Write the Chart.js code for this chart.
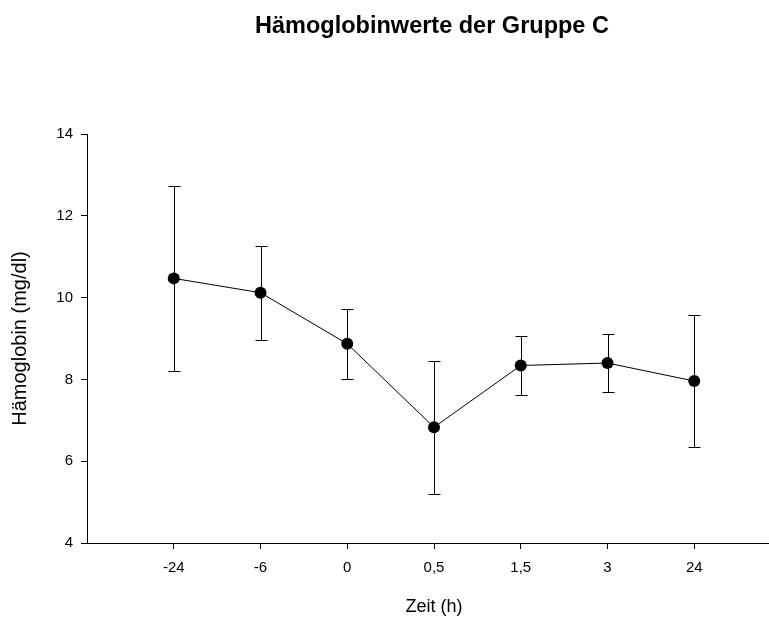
<!DOCTYPE html>
<html>
<head>
<meta charset="utf-8">
<script src="https://cdn.jsdelivr.net/npm/chart.js@4.4.1/dist/chart.umd.min.js"></script>
<style>
  html, body { margin: 0; padding: 0; background: #fff; overflow: hidden; width: 769px; height: 621px; }
  #wrap { position: relative; width: 864px; height: 621px; }
</style>
</head>
<body>
<div id="wrap"><canvas id="c" width="864" height="621"></canvas></div>
<script>
const categories = ['-24', '-6', '0', '0,5', '1,5', '3', '24'];
const meanValues = [10.47, 10.12, 8.87, 6.83, 8.34, 8.40, 7.96];
const upperValues = [12.72, 11.27, 9.71, 8.44, 9.07, 9.10, 9.57];
const lowerValues = [8.21, 8.96, 8.00, 5.21, 7.63, 7.70, 6.34];
const yTickValues = [4, 6, 8, 10, 12, 14];
const chartTitle = 'Hämoglobinwerte der Gruppe C';

const FONT = "'Liberation Sans', Arial, sans-serif";

const errorBarPlugin = {
  id: 'errorBars',
  beforeDatasetsDraw(chart) {
    const ctx = chart.ctx;
    const xs = chart.scales.x, ys = chart.scales.y;
    ctx.save();
    ctx.strokeStyle = '#000';
    ctx.lineWidth = 1;
    const cap = 6;
    categories.forEach((c, i) => {
      const x = Math.round(xs.getPixelForValue(i)) + 0.5;
      const yt = Math.round(ys.getPixelForValue(upperValues[i])) + 0.5;
      const yb = Math.round(ys.getPixelForValue(lowerValues[i])) + 0.5;
      ctx.beginPath();
      ctx.moveTo(x, yt); ctx.lineTo(x, yb);
      ctx.moveTo(x - cap, yt); ctx.lineTo(x + cap, yt);
      ctx.moveTo(x - cap, yb); ctx.lineTo(x + cap, yb);
      ctx.stroke();
    });
    ctx.restore();
  }
};

const titlePlugin = {
  id: 'centeredTitle',
  afterDraw(chart) {
    const ctx = chart.ctx;
    ctx.save();
    ctx.fillStyle = '#000';
    ctx.font = 'bold 23.5px ' + FONT;
    ctx.textAlign = 'center';
    ctx.textBaseline = 'alphabetic';
    ctx.fillText(chartTitle, chart.width / 2, 33);
    ctx.restore();
  }
};

new Chart(document.getElementById('c'), {
  type: 'line',
  data: {
    datasets: [{
      data: meanValues.map((v, i) => ({ x: i, y: v })),
      borderColor: '#000',
      borderWidth: 1,
      backgroundColor: '#000',
      pointBackgroundColor: '#000',
      pointBorderColor: '#000',
      pointRadius: 6,
      pointBorderWidth: 0,
      tension: 0,
      fill: false
    }]
  },
  options: {
    responsive: false,
    animation: false,
    layout: { padding: { left: 0, right: 83, top: 134, bottom: 0 } },
    plugins: {
      legend: { display: false },
      tooltip: { enabled: false },
      title: { display: false }
    },
    scales: {
      x: {
        type: 'linear',
        min: -1,
        max: 7,
        afterBuildTicks(scale) { scale.ticks = categories.map((c, i) => ({ value: i })); },
        afterFit(scale) { scale.height = 78; },
        ticks: {
          callback: (v) => categories[v],
          color: '#000',
          font: { family: FONT, size: 15 },
          padding: 10,
          maxRotation: 0,
          autoSkip: false
        },
        grid: { drawOnChartArea: false, tickLength: 6, color: '#000', lineWidth: 1 },
        border: { display: true, color: '#000', width: 1 },
        title: {
          display: true,
          text: 'Zeit (h)',
          color: '#000',
          font: { family: FONT, size: 18 },
          padding: { top: 0, bottom: 3 }
        }
      },
      y: {
        type: 'linear',
        min: 4,
        max: 14,
        afterBuildTicks(scale) { scale.ticks = yTickValues.map(v => ({ value: v })); },
        afterFit(scale) { scale.width = 87; },
        ticks: {
          color: '#000',
          font: { family: FONT, size: 15 },
          padding: 8
        },
        grid: { drawOnChartArea: false, tickLength: 6, color: '#000', lineWidth: 1 },
        border: { display: true, color: '#000', width: 1 },
        title: {
          display: true,
          text: 'Hämoglobin (mg/dl)',
          color: '#000',
          font: { family: FONT, size: 20 },
          padding: { top: 8, bottom: 0 }
        }
      }
    }
  },
  plugins: [errorBarPlugin, titlePlugin]
});
</script>
</body>
</html>
